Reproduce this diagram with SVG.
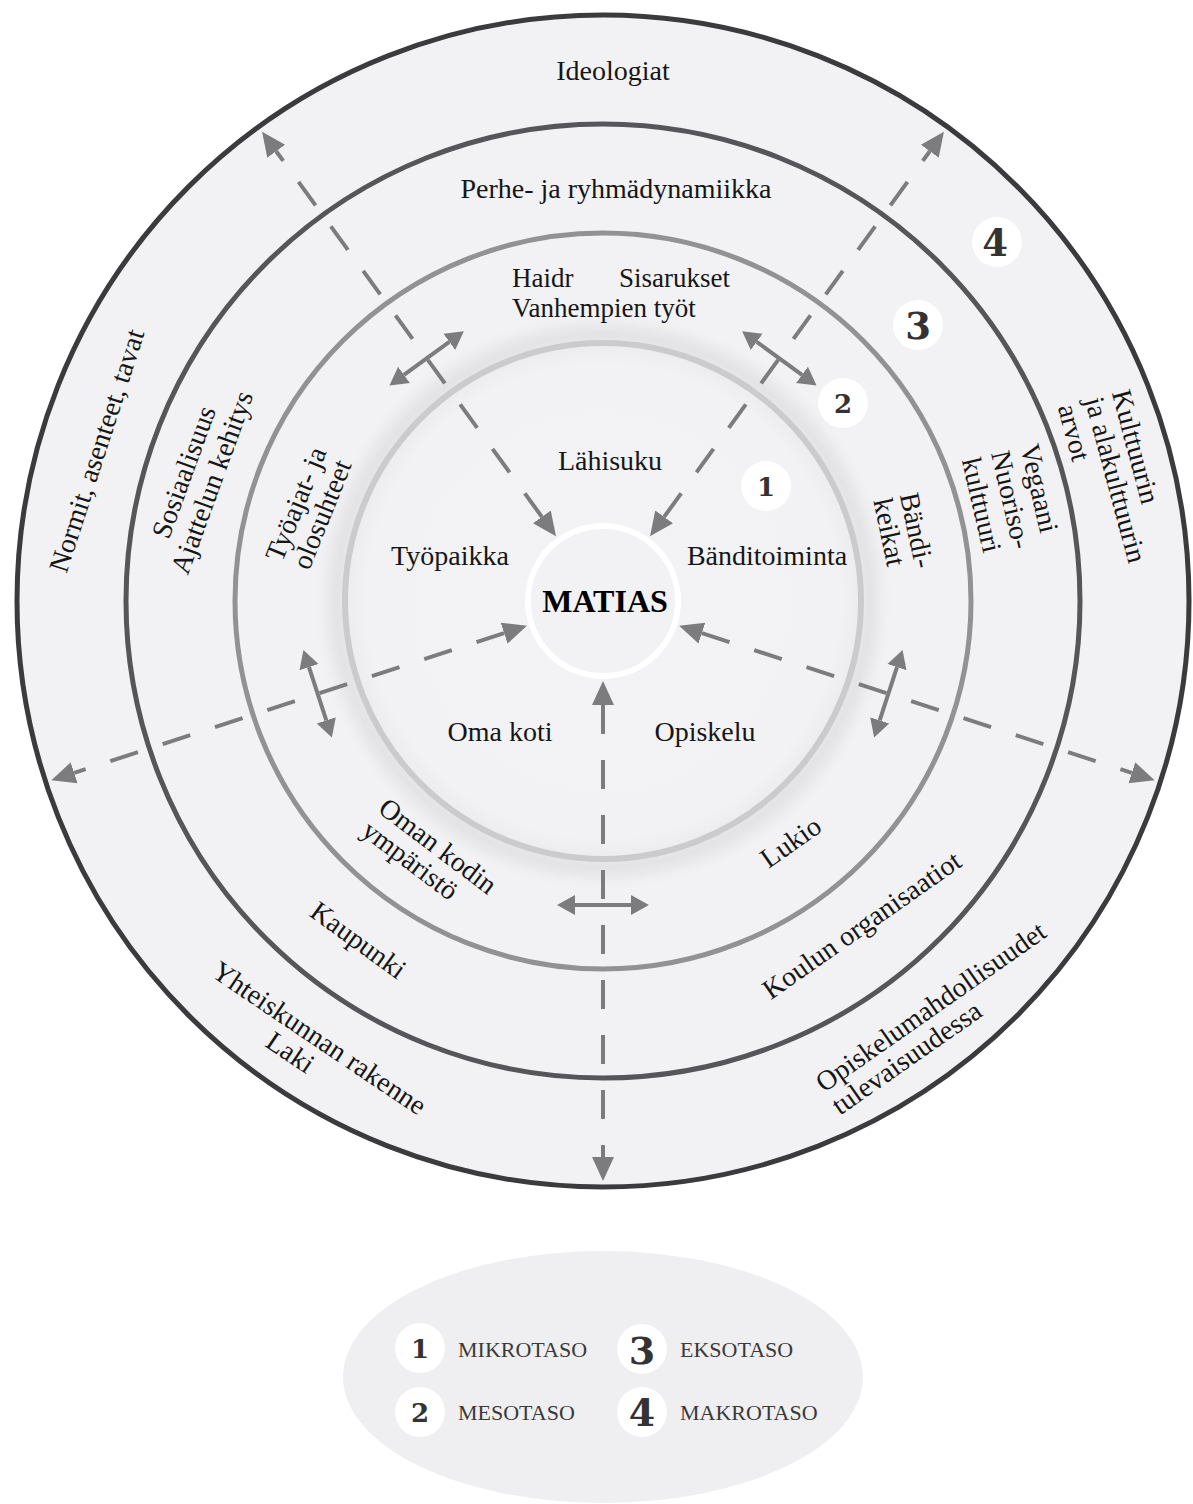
<svg xmlns="http://www.w3.org/2000/svg" width="1193" height="1504" viewBox="0 0 1193 1504">
<style>
.t{font-family:"Liberation Serif","Times New Roman",serif;font-size:28px;fill:#161616}
.m{text-anchor:middle}
.s{text-anchor:start}
.num{font-family:"DejaVu Serif","Liberation Serif",serif;font-weight:bold;fill:#333;text-anchor:middle}
.lg{font-family:"Liberation Serif","Times New Roman",serif;font-size:22px;fill:#3a3a3a}
.badge{fill:#fff}
.dash{fill:none;stroke:#7c7c7f;stroke-width:4;stroke-dasharray:29 26}
.dbl{fill:none;stroke:#7c7c7f;stroke-width:4}
</style>
<defs>
<marker id="ah" markerUnits="userSpaceOnUse" markerWidth="30" markerHeight="30" viewBox="0 -15 30 30" refX="0" refY="0" orient="auto-start-reverse">
<path d="M0,-11 L24,0 L0,11 z" fill="#7c7c7f"/>
</marker>
<marker id="dh" markerUnits="userSpaceOnUse" markerWidth="24" markerHeight="24" viewBox="0 -12 24 24" refX="0" refY="0" orient="auto-start-reverse">
<path d="M0,-10 L18,0 L0,10 z" fill="#7c7c7f"/>
</marker>
<radialGradient id="g1" cx="603" cy="601" r="262" gradientUnits="userSpaceOnUse">
<stop offset="0" stop-color="#f3f3f5"/>
<stop offset="0.9" stop-color="#f2f2f4"/>
<stop offset="1" stop-color="#ebebed"/>
</radialGradient>
<filter id="blur" x="-20%" y="-20%" width="140%" height="140%"><feGaussianBlur stdDeviation="7"/></filter>
</defs>
<rect width="1193" height="1504" fill="#ffffff"/>

<g id="ring-makro">
<circle cx="603" cy="601" r="586" fill="#f2f2f4" stroke="#3b3b3d" stroke-width="5"/>
</g>
<g id="ring-ekso">
<circle cx="603" cy="601" r="477" fill="none" stroke="#56565a" stroke-width="5"/>
</g>
<g id="ring-meso">
<circle cx="603" cy="601" r="368" fill="none" stroke="#929295" stroke-width="5"/>
</g>
<g id="ring-mikro">
<circle cx="603" cy="601" r="266" fill="none" stroke="#000" stroke-opacity="0.07" stroke-width="18" filter="url(#blur)"/>
<circle cx="603" cy="601" r="258" fill="url(#g1)" stroke="#cbcbcd" stroke-width="6"/>
</g>
<g id="matias">
<circle cx="603" cy="601" r="75" fill="#f2f2f4" stroke="#ffffff" stroke-width="6"/>
<text class="t m" x="605" y="612" style="font-weight:bold;font-size:32px;fill:#000">MATIAS</text>
</g>

<g id="connectors">
<path class="dash" d="M541.87,516.86 L276.2,151.2" marker-start="url(#ah)" marker-end="url(#ah)"/>
<path class="dash" d="M664.13,516.86 L929.8,151.2" marker-start="url(#ah)" marker-end="url(#ah)"/>
<path class="dash" d="M504.09,633.14 L74.2,772.8" marker-start="url(#ah)" marker-end="url(#ah)"/>
<path class="dash" d="M701.91,633.14 L1131.8,772.8" marker-start="url(#ah)" marker-end="url(#ah)"/>
<path class="dash" d="M603,705 L603,1157" marker-start="url(#ah)" marker-end="url(#ah)"/>
<path class="dbl" d="M404.0,374.8 L449.3,341.8" marker-start="url(#dh)" marker-end="url(#dh)"/>
<path class="dbl" d="M756.7,341.8 L802.0,374.8" marker-start="url(#dh)" marker-end="url(#dh)"/>
<path class="dbl" d="M309.0,667.1 L326.3,720.3" marker-start="url(#dh)" marker-end="url(#dh)"/>
<path class="dbl" d="M897.0,667.1 L879.7,720.3" marker-start="url(#dh)" marker-end="url(#dh)"/>
<path class="dbl" d="M575,905 L631,905" marker-start="url(#dh)" marker-end="url(#dh)"/>
</g>

<g id="labels-makro">
<text class="t m" x="613" y="80">Ideologiat</text>
<text class="t m" transform="translate(98,451) rotate(-72)" y="8">Normit, asenteet, tavat</text>
<text class="t s" transform="translate(1118.5,391) rotate(75)"><tspan x="0" y="7">Kulttuurin</tspan><tspan x="0" y="35">ja alakulttuurin</tspan><tspan x="0" y="63">arvot</tspan></text>
<text class="t m" transform="translate(318,1040) rotate(34)"><tspan x="0" y="7">Yhteiskunnan rakenne</tspan><tspan x="-16" y="35">Laki</tspan></text>
<text class="t s" transform="translate(933,1008) rotate(-35)"><tspan x="-138" y="7">Opiskelumahdollisuudet</tspan><tspan x="-138" y="35">tulevaisuudessa</tspan></text>
</g>
<g id="labels-ekso">
<text class="t m" x="616" y="198">Perhe- ja ryhmädynamiikka</text>
<text class="t m" transform="translate(200,478) rotate(-70)"><tspan x="0" y="-8">Sosiaalisuus</tspan><tspan x="0" y="22">Ajattelun kehitys</tspan></text>
<text class="t s" transform="translate(1027,445) rotate(77)"><tspan x="0" y="7">Vegaani</tspan><tspan x="0" y="37">Nuoriso-</tspan><tspan x="0" y="67">kulttuuri</tspan></text>
<text class="t m" transform="translate(357,942) rotate(36)" y="7">Kaupunki</text>
<text class="t m" transform="translate(863,927) rotate(-35)" y="7">Koulun organisaatiot</text>
</g>
<g id="labels-meso">
<text class="t s" x="512" y="287" style="font-size:27px">Haidr</text>
<text class="t s" x="619" y="287" style="font-size:27px">Sisarukset</text>
<text class="t s" x="512" y="317" style="font-size:27px">Vanhempien työt</text>
<text class="t m" transform="translate(311,510) rotate(-68)"><tspan x="0" y="-7">Työajat- ja</tspan><tspan x="0" y="21">olosuhteet</tspan></text>
<text class="t s" transform="translate(906.5,493.5) rotate(78)"><tspan x="0" y="7">Bändi-</tspan><tspan x="0" y="34">keikat</tspan></text>
<text class="t s" transform="translate(381,806) rotate(37)"><tspan x="0" y="7">Oman kodin</tspan><tspan x="0" y="35">ympäristö</tspan></text>
<text class="t m" transform="translate(792,844) rotate(-35)" y="7">Lukio</text>
</g>
<g id="labels-mikro">
<text class="t m" x="610" y="470">Lähisuku</text>
<text class="t m" x="450" y="565">Työpaikka</text>
<text class="t m" x="767" y="565">Bänditoiminta</text>
<text class="t m" x="500" y="741">Oma koti</text>
<text class="t m" x="705" y="741">Opiskelu</text>
</g>

<g id="badge-1"><circle class="badge" cx="766" cy="486" r="25"/><text class="num" x="766" y="495.5" font-size="26">1</text></g>
<g id="badge-2"><circle class="badge" cx="843" cy="403" r="25"/><text class="num" x="843" y="412.5" font-size="26">2</text></g>
<g id="badge-3"><circle class="badge" cx="918" cy="325" r="25"/><text class="num" x="918" y="338.5" font-size="37">3</text></g>
<g id="badge-4"><circle class="badge" cx="997" cy="242" r="25"/><text class="num" x="995" y="255.5" font-size="37">4</text></g>

<g id="legend">
<ellipse cx="603" cy="1377" rx="260" ry="126" fill="#efeff1"/>
<circle class="badge" cx="420" cy="1348" r="25"/><text class="num" x="420" y="1358" font-size="26">1</text>
<text class="lg" x="458" y="1357">MIKROTASO</text>
<circle class="badge" cx="642" cy="1349" r="25"/><text class="num" x="642" y="1364" font-size="38">3</text>
<text class="lg" x="680" y="1357">EKSOTASO</text>
<circle class="badge" cx="420" cy="1412" r="25"/><text class="num" x="420" y="1421.5" font-size="26">2</text>
<text class="lg" x="458" y="1420">MESOTASO</text>
<circle class="badge" cx="642" cy="1412" r="25"/><text class="num" x="642" y="1425.5" font-size="38">4</text>
<text class="lg" x="680" y="1420">MAKROTASO</text>
</g>
</svg>
